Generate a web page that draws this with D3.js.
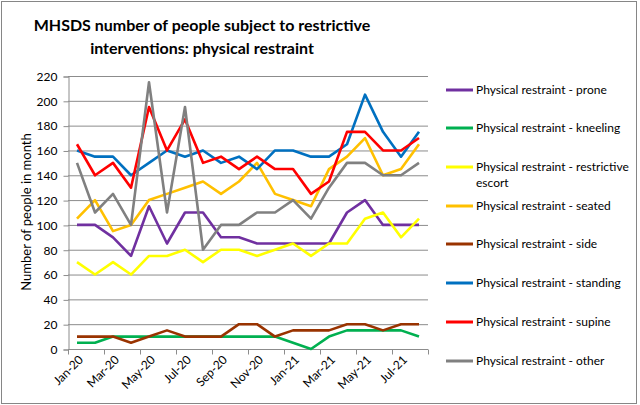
<!DOCTYPE html>
<html>
<head>
<meta charset="utf-8">
<script src="https://cdn.jsdelivr.net/npm/d3@7"></script>
<style>
  body { margin: 0; background: #fff; }
  svg { display: block; }
  text { font-family: "Lato", sans-serif; fill: #000; }
</style>
</head>
<body>
<svg id="chart" width="640" height="405"></svg>
<script>
// months Jan-20 .. Aug-21
var months = ["Jan-20","Feb-20","Mar-20","Apr-20","May-20","Jun-20","Jul-20","Aug-20","Sep-20","Oct-20",
  "Nov-20","Dec-20","Jan-21","Feb-21","Mar-21","Apr-21","May-21","Jun-21","Jul-21","Aug-21"];

var seriesNames = ["Physical restraint - prone", "Physical restraint - kneeling",
  "Physical restraint - restrictive escort", "Physical restraint - seated",
  "Physical restraint - side", "Physical restraint - standing",
  "Physical restraint - supine", "Physical restraint - other"];

var prone    = [100,100,90,75,115,85,110,110,90,90,85,85,85,85,85,110,120,100,100,100];
var kneeling = [5,5,10,10,10,10,10,10,10,10,10,10,5,0,10,15,15,15,15,10];
var escort   = [70,60,70,60,75,75,80,70,80,80,75,80,85,75,85,85,105,110,90,105];
var seated   = [105,120,95,100,120,125,130,135,125,135,150,125,120,115,145,155,170,140,145,165];
var side     = [10,10,10,5,10,15,10,10,10,20,20,10,15,15,15,20,20,15,20,20];
var standing = [160,155,155,140,150,160,155,160,150,155,145,160,160,155,155,165,205,175,155,175];
var supine   = [165,140,150,130,195,160,185,150,155,145,155,145,145,125,135,175,175,160,160,170];
var other    = [150,110,125,100,215,110,195,80,100,100,110,110,120,105,130,150,150,140,140,150];

var yTicks = [0,20,40,60,80,100,120,140,160,180,200,220];
var colors = ["#7030A0","#00B050","#FFFF00","#FFC000","#993300","#0070C0","#FF0000","#808080"];

var allSeries = [prone, kneeling, escort, seated, side, standing, supine, other];

(function() {
  var svg = d3.select("#chart");

  // outer border
  svg.append("rect")
    .attr("x", 1.5).attr("y", 1.5)
    .attr("width", 635).attr("height", 402)
    .attr("fill", "none")
    .attr("stroke", "#868686");

  var plotLeft = 68, plotRight = 428, plotTop = 76, plotBottom = 349;

  var x = d3.scaleBand().domain(months).range([plotLeft, plotRight]);
  var y = d3.scaleLinear().domain([0, 220]).range([plotBottom, plotTop]);

  // gridlines
  svg.append("g")
    .selectAll("line")
    .data(yTicks.slice(1))
    .enter()
    .append("line")
    .attr("x1", plotLeft).attr("x2", plotRight)
    .attr("y1", function(d) { return y(d) + 0.5; })
    .attr("y2", function(d) { return y(d) + 0.5; })
    .attr("stroke", "#8c8c8c")
    .attr("stroke-width", 1);

  // y axis
  var yAxis = svg.append("g")
    .attr("transform", "translate(" + (plotLeft + 0.5) + ",0.5)")
    .call(d3.axisLeft(y).tickValues(yTicks).tickSize(5).tickPadding(6));
  yAxis.select(".domain").attr("stroke", "#8c8c8c");
  yAxis.selectAll(".tick line").attr("stroke", "#8c8c8c");
  yAxis.selectAll("text")
    .style("font-family", "Lato, sans-serif")
    .style("font-size", "12px")
    .attr("fill", "#000");

  // x axis: ticks every 2 categories
  var tickMonths = months.filter(function(d, i) { return i % 2 === 0; });
  var xAxis = svg.append("g")
    .attr("transform", "translate(0," + (plotBottom + 0.5) + ")");
  xAxis.append("line")
    .attr("x1", plotLeft).attr("x2", plotRight)
    .attr("stroke", "#8c8c8c");
  xAxis.selectAll("line.tk")
    .data(tickMonths.concat(["end"]))
    .enter()
    .append("line")
    .attr("class", "tk")
    .attr("x1", function(d) { return d === "end" ? plotRight + 0.5 : x(d) + 0.5; })
    .attr("x2", function(d) { return d === "end" ? plotRight + 0.5 : x(d) + 0.5; })
    .attr("y1", 0).attr("y2", 5)
    .attr("stroke", "#8c8c8c");
  xAxis.selectAll("text")
    .data(tickMonths)
    .enter()
    .append("text")
    .attr("transform", function(d) {
      return "translate(" + (x(d) + x.bandwidth() / 2 + 4) + ",8) rotate(-45)";
    })
    .attr("text-anchor", "end")
    .attr("dy", "0.35em")
    .style("font-size", "12px")
    .text(function(d) { return d; });

  // y title
  svg.append("text")
    .attr("transform", "translate(31,212) rotate(-90)")
    .attr("text-anchor", "middle")
    .style("font-size", "13px")
    .text("Number of people in month");

  // title
  var title = svg.append("text")
    .attr("text-anchor", "middle")
    .style("font-size", "16px")
    .style("font-weight", "bold");
  title.append("tspan").attr("x", 202).attr("y", 31).text("MHSDS number of people subject to restrictive");
  title.append("tspan").attr("x", 202).attr("y", 54).text("interventions: physical restraint");

  // lines
  var line = d3.line()
    .x(function(d, i) { return x(months[i]) + x.bandwidth() / 2; })
    .y(function(d) { return y(d); });

  svg.append("g")
    .selectAll("path")
    .data(allSeries)
    .enter()
    .append("path")
    .attr("d", line)
    .attr("fill", "none")
    .attr("stroke", function(d, i) { return colors[i]; })
    .attr("stroke-width", 2.6)
    .attr("stroke-linejoin", "round");

  // legend
  var legendY = [90, 128, 167, 206, 244, 283, 322, 361];
  var legend = svg.append("g")
    .selectAll("g")
    .data(seriesNames)
    .enter()
    .append("g")
    .attr("transform", function(d, i) { return "translate(446," + legendY[i] + ")"; });

  legend.append("line")
    .attr("x1", 0).attr("x2", 27)
    .attr("stroke", function(d, i) { return colors[i]; })
    .attr("stroke-width", 3);

  legend.append("text")
    .attr("x", 30)
    .attr("dy", "0.35em")
    .style("font-size", "12px")
    .each(function(d) {
      var t = d3.select(this);
      if (d === "Physical restraint - restrictive escort") {
        t.append("tspan").attr("x", 30).text("Physical restraint - restrictive");
        t.append("tspan").attr("x", 30).attr("dy", "1.35em").text("escort");
      } else {
        t.text(d);
      }
    });
})();
</script>
</body>
</html>
